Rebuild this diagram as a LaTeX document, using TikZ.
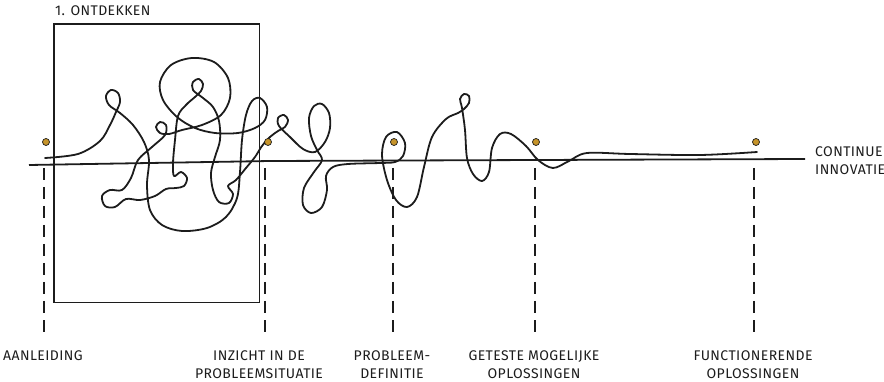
\documentclass[tikz,border=0pt]{standalone}
\usepackage{fontspec}
\newfontfamily\hand[LetterSpace=3]{Fira Sans}
\definecolor{gold}{RGB}{198,148,42}
\definecolor{ink}{RGB}{28,28,28}
\begin{document}
\begin{tikzpicture}[x=1pt,y=-1pt,
  lbl/.style={font=\hand\fontsize{14}{18}\selectfont, text=ink, align=center, inner sep=0pt},
  pin/.style={circle, fill=gold, draw=ink, line width=0.7pt, minimum size=7pt, inner sep=0pt},
  tick/.style={dash pattern=on 12pt off 7pt, line width=1.5pt, draw=ink},
  scribble/.style={line width=1.8pt, draw=ink, line cap=round, line join=round},
  frame/.style={line width=1.4pt, draw=ink},
  axis/.style={line width=1.8pt, draw=ink}]
\useasboundingbox (0,0) rectangle (884,382);

% discovery frame
\node[draw=none, inner sep=0pt, minimum width=205pt, minimum height=278pt, anchor=north west] (box) at (54,24) {};
\draw[frame] (box.north west) rectangle (box.south east);
\node[lbl, anchor=west] (title) at (55,11) {1. ONTDEKKEN};

% main axis
\coordinate (axL) at (29,165);
\coordinate (axM) at (270,161);
\coordinate (axR) at (805,159);
\draw[axis] (axL) -- (axM) -- (axR);

% scribble
\draw[scribble] plot[smooth, tension=0.55] coordinates {
(45,158) (78,154) (100,141) (110,125) (116,112) (120,102) (118,93) (111,90) (106,96) (109,105) (120,113)
(133,125) (144,142) (149,160) (147,185) (150,210) (162,225) (182,231) (207,228)
(226,217) (237,198) (240,172) (242,140) (246,115) (252,101) (260,98) (267,107)
(265,120) (255,128) (238,133) (215,133) (195,128) (177,117) (163,100) (160,82)
(171,65) (192,58) (214,62) (228,78) (230,98) (221,115) (202,125) (182,130)
(169,134) (160,133) (156,127) (160,122) (166,125) (165,135) (152,147) (138,160) (131,178)
(122,190) (110,190) (102,196) (105,206) (115,207) (126,199) (140,200) (155,196)
(166,189) (176,188) (184,186) (187,178) (181,172) (174,176) (173,163) (175,140) (178,116)
(186,105) (195,97) (201,91) (203,84) (199,79) (193,82) (193,90) (203,98) (213,107) (219,121)
(220,140) (215,157) (211,173) (213,190) (219,202) (229,203) (233,194) (228,186)
(236,180) (246,168) (255,157) (262,146) (270,137) (278,131) (285,127) (288,120)
(284,115) (278,118) (279,126) (290,137) (303,149) (315,152) (325,142) (330,128) (329,113)
(322,104) (314,106) (309,118) (311,136) (317,150) (322,160) (314,172) (304,188) (303,205) (311,213)
(322,207) (327,190) (326,176) (333,167) (348,164) (380,163) (395,162) (403,156)
(405,143) (397,132) (386,137) (382,155) (387,180) (396,200) (407,207) (417,197)
(424,167) (432,137) (446,119) (458,113) (464,109) (469,103) (469,96) (464,94) (460,99) (462,108)
(465,130) (467,158) (473,174) (482,181) (489,172) (492,148) (500,134)
(511,134) (526,146) (538,160) (553,168) (569,161) (587,153) (630,154) (700,155)
(757,152)};

% milestones
\foreach \i/\x/\dx in {1/46/44, 2/268/265, 3/394/393, 4/536/535, 5/756/754}{
  \node[pin] (d\i) at (\x,142) {};
  \coordinate (t\i) at (\dx,168);
  \coordinate (b\i) at (\dx,337);
  \draw[tick] (t\i) -- (b\i);
}

% labels
\node[lbl, anchor=north] (l1) at (43,350) {AANLEIDING};
\node[lbl, anchor=north] (l2) at (259,350) {INZICHT IN DE\\PROBLEEMSITUATIE};
\node[lbl, anchor=north] (l3) at (392,350) {PROBLEEM-\\DEFINITIE};
\node[lbl, anchor=north] (l4) at (534,350) {GETESTE MOGELIJKE\\OPLOSSINGEN};
\node[lbl, anchor=north] (l5) at (753,350) {FUNCTIONERENDE\\OPLOSSINGEN};
\node[lbl, anchor=north west, align=left] (ci) at (815,146) {CONTINUE\\INNOVATIE};
\end{tikzpicture}
\end{document}
